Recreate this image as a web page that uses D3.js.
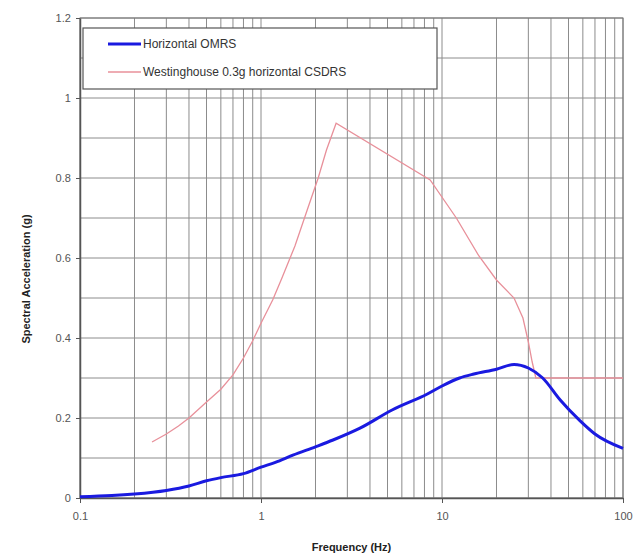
<!DOCTYPE html>
<html>
<head>
<meta charset="utf-8">
<script src="https://cdn.jsdelivr.net/npm/d3@7"></script>
<style>
  body { margin: 0; background: #fff; }
  text { font-family: "Liberation Sans", Arial, sans-serif; }
</style>
</head>
<body>
<script>
// données
const omrsFreq = [0.1, 0.15, 0.2, 0.3, 0.4, 0.5, 0.6, 0.8, 1.0, 1.2, 1.5, 2.0, 2.5, 3.5, 5.3, 8.3, 10, 12.5, 15, 20, 25, 30, 36, 45, 57.6, 70, 100];
const omrsAcc  = [0.003, 0.006, 0.010, 0.019, 0.030, 0.043, 0.051, 0.061, 0.077, 0.089, 0.107, 0.128, 0.145, 0.174, 0.220, 0.260, 0.280, 0.300, 0.310, 0.322, 0.334, 0.325, 0.300, 0.245, 0.194, 0.160, 0.124];

const csdrsFreq = [0.25, 0.3, 0.35, 0.4, 0.5, 0.6, 0.7, 0.8, 0.9, 1.0, 1.16, 1.3, 1.54, 1.8, 2.07, 2.3, 2.6, 8.6, 12, 16, 20, 25, 28, 30, 31.5, 33, 100];
const csdrsAcc  = [0.14, 0.16, 0.18, 0.20, 0.24, 0.272, 0.308, 0.35, 0.393, 0.437, 0.495, 0.548, 0.63, 0.72, 0.80, 0.87, 0.937, 0.795, 0.70, 0.605, 0.545, 0.50, 0.45, 0.39, 0.34, 0.30, 0.30];

const xTicks = [0.1, 1, 10, 100];
const xTickLabels = ["0.1", "1", "10", "100"];
const yTicks = [0, 0.2, 0.4, 0.6, 0.8, 1, 1.2];
const yTickLabels = ["0", "0.2", "0.4", "0.6", "0.8", "1", "1.2"];
const seriesNames = ["Horizontal OMRS", "Westinghouse 0.3g horizontal CSDRS"];

const width = 634;
const height = 560;
const margin = { top: 18, right: 11, bottom: 62, left: 80 };

const svg = d3.select("body").append("svg")
    .attr("width", width)
    .attr("height", height);

const x = d3.scaleLog()
    .domain([0.1, 100])
    .range([margin.left, width - margin.right]);

const y = d3.scaleLinear()
    .domain([0, 1.2])
    .range([height - margin.bottom, margin.top]);

// grille verticale (log)
const minorX = [];
[0.1, 1, 10].forEach(d => {
    for (let k = 1; k <= 9; k++) minorX.push(d * k);
});
minorX.push(100);

svg.append("g")
    .selectAll("line")
    .data(minorX)
    .enter()
    .append("line")
    .attr("x1", d => x(d)).attr("x2", d => x(d))
    .attr("y1", y(0)).attr("y2", y(1.2))
    .attr("stroke", "#8c8c8c")
    .attr("stroke-width", 1);

// grille horizontale tous les 0.1
svg.append("g")
    .selectAll("line")
    .data(d3.range(0, 13).map(i => i / 10))
    .enter()
    .append("line")
    .attr("x1", x(0.1)).attr("x2", x(100))
    .attr("y1", d => y(d)).attr("y2", d => y(d))
    .attr("stroke", "#8c8c8c")
    .attr("stroke-width", 1);

// cadre
svg.append("rect")
    .attr("x", x(0.1)).attr("y", y(1.2))
    .attr("width", x(100) - x(0.1))
    .attr("height", y(0) - y(1.2))
    .attr("fill", "none")
    .attr("stroke", "#777");

// axes
const xAxis = d3.axisBottom(x)
    .tickValues(xTicks)
    .tickFormat((d, i) => xTickLabels[i])
    .tickSize(5)
    .tickSizeOuter(0);

const yAxis = d3.axisLeft(y)
    .tickValues(yTicks)
    .tickFormat((d, i) => yTickLabels[i])
    .tickSize(4)
    .tickSizeOuter(0);

const gx = svg.append("g")
    .attr("transform", `translate(0,${y(0)})`)
    .call(xAxis);
gx.selectAll("text").attr("font-size", 11).attr("fill", "#555").attr("dy", "1.3em");

const gy = svg.append("g")
    .attr("transform", `translate(${x(0.1)},0)`)
    .call(yAxis);
gy.selectAll("text").attr("font-size", 11).attr("fill", "#555").attr("dx", "-0.2em");

[gx, gy].forEach(g => {
    g.select(".domain").attr("stroke", "#555").attr("stroke-width", 1.5);
    g.selectAll(".tick line").attr("stroke", "#555");
    g.selectAll("text").attr("font-family", "Liberation Sans, Arial, sans-serif");
});

// courbes
const omrs = omrsFreq.map((f, i) => ({ f: f, a: omrsAcc[i] }));
const csdrs = csdrsFreq.map((f, i) => ({ f: f, a: csdrsAcc[i] }));

const lineSmooth = d3.line()
    .x(d => x(d.f))
    .y(d => y(d.a))
    .curve(d3.curveMonotoneX);

const lineStraight = d3.line()
    .x(d => x(d.f))
    .y(d => y(d.a));

svg.append("path")
    .datum(csdrs)
    .attr("d", lineStraight)
    .attr("fill", "none")
    .attr("stroke", "#e8909a")
    .attr("stroke-width", 1.3);

svg.append("path")
    .datum(omrs)
    .attr("d", lineSmooth)
    .attr("fill", "none")
    .attr("stroke", "#1a1ae0")
    .attr("stroke-width", 3);

// légende
const legend = svg.append("g");
legend.append("rect")
    .attr("x", 83).attr("y", 28)
    .attr("width", 354).attr("height", 61)
    .attr("fill", "#fff")
    .attr("stroke", "#555")
    .attr("stroke-width", 1.2);

const legendStyles = [
    { color: "#1a1ae0", w: 3 },
    { color: "#e8909a", w: 1.3 }
];

seriesNames.forEach((name, i) => {
    const ly = 44 + i * 28;
    legend.append("line")
        .attr("x1", 108).attr("x2", 141)
        .attr("y1", ly).attr("y2", ly)
        .attr("stroke", legendStyles[i].color)
        .attr("stroke-width", legendStyles[i].w);
    legend.append("text")
        .attr("x", 143).attr("y", ly + 4)
        .attr("font-size", 12)
        .attr("fill", "#333")
        .text(name);
});

// titres des axes
svg.append("text")
    .attr("x", (x(0.1) + x(100)) / 2)
    .attr("y", 551)
    .attr("text-anchor", "middle")
    .attr("font-size", 11)
    .attr("font-weight", "bold")
    .attr("fill", "#222")
    .text("Frequency (Hz)");

svg.append("text")
    .attr("transform", "translate(30,279) rotate(-90)")
    .attr("text-anchor", "middle")
    .attr("font-size", 11)
    .attr("font-weight", "bold")
    .attr("fill", "#222")
    .text("Spectral Acceleration (g)");
</script>
</body>
</html>
